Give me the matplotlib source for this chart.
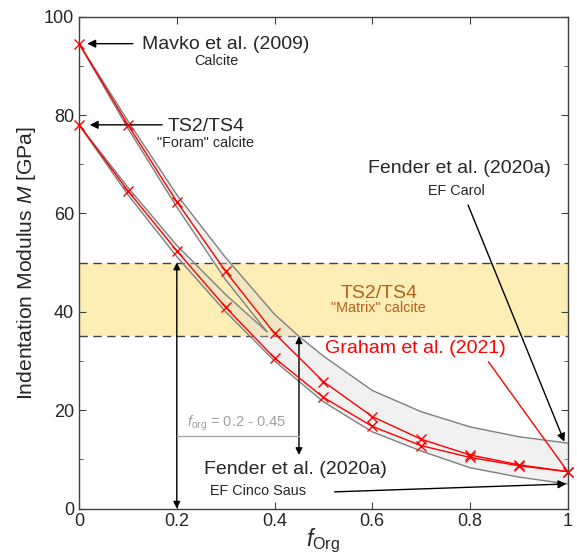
import numpy as np
import matplotlib
matplotlib.use('Agg')
import matplotlib.pyplot as plt
from matplotlib.ticker import MultipleLocator

plt.rcParams['font.family'] = ['Liberation Sans', 'DejaVu Sans']
plt.rcParams['mathtext.fontset'] = 'custom'
plt.rcParams['mathtext.rm'] = 'Liberation Sans'
plt.rcParams['mathtext.it'] = 'Liberation Sans:italic'

# Graham et al. (2021) model curves
f_org = [0, 0.1, 0.2, 0.3, 0.4, 0.5, 0.6, 0.7, 0.8, 0.9, 1.0]
m_mavko = [94.5, 78.0, 62.4, 48.2, 35.6, 25.8, 18.7, 14.1, 10.9, 8.9, 7.5]
m_foram = [78.0, 64.6, 52.4, 40.9, 30.6, 22.6, 16.7, 12.8, 10.4, 8.7, 7.5]

# uncertainty envelope edges
up_outer_x = [0, 0.1, 0.2, 0.3, 0.4, 0.45, 0.5, 0.6, 0.7, 0.8, 0.9, 1.0]
up_outer_y = [94.5, 78.8, 63.8, 51.0, 39.5, 35.0, 31.0, 24.0, 19.7, 16.6, 14.6, 13.3]
up_inner_x = [0, 0.1, 0.2, 0.3, 0.384]
up_inner_y = [94.5, 77.3, 61.3, 46.5, 36.0]
lo_inner_x = [0, 0.1, 0.2, 0.3, 0.384]
lo_inner_y = [78.0, 65.3, 53.5, 43.5, 36.0]
lo_outer_x = [0, 0.1, 0.2, 0.3, 0.4, 0.5, 0.6, 0.7, 0.8, 0.9, 1.0]
lo_outer_y = [78.0, 63.8, 51.2, 40.0, 30.0, 21.7, 15.6, 11.7, 8.3, 6.4, 5.0]

# matrix calcite range
matrix_lo, matrix_hi = 35, 50

fig = plt.figure(figsize=(5.77, 5.54), dpi=100)
ax = fig.add_axes([0.137, 0.082, 0.847, 0.888])

txt = '#262626'
big = 14
small = 10.4

ax.axhspan(matrix_lo, matrix_hi, color='#fdeeb6', zorder=0, lw=0)
ax.axhline(matrix_hi, color='#404040', ls=(0, (6, 4)), lw=1, zorder=1)
ax.axhline(matrix_lo, color='#404040', ls=(0, (6, 4)), lw=1, zorder=1)

# envelope polygon
px = up_outer_x + [1.0] + lo_outer_x[::-1] + lo_inner_x[1:] + up_inner_x[::-1][1:]
py = up_outer_y + [lo_outer_y[-1]] + lo_outer_y[::-1] + lo_inner_y[1:] + up_inner_y[::-1][1:]
ax.fill(px, py, facecolor='#d9d9d9', alpha=0.35, edgecolor='none', zorder=2)
for xs, ys in [(up_outer_x, up_outer_y), (up_inner_x, up_inner_y),
               (lo_inner_x, lo_inner_y), (lo_outer_x, lo_outer_y)]:
    ax.plot(xs, ys, color='#7f7f7f', lw=1, zorder=3)

ax.plot(f_org, m_mavko, color='red', lw=1, marker='x', ms=6.5, mew=1, zorder=5, clip_on=False)
ax.plot(f_org, m_foram, color='red', lw=1, marker='x', ms=6.5, mew=1, zorder=5, clip_on=False)

arr = dict(arrowstyle='-|>', color='black', lw=1, mutation_scale=12, shrinkA=0, shrinkB=0)

ax.annotate('', xy=(0.017, 94.5), xytext=(0.11, 94.5), arrowprops=arr)
ax.text(0.30, 94.3, 'Mavko et al. (2009)', fontsize=big, color=txt, ha='center', va='center')
ax.text(0.28, 90.9, 'Calcite', fontsize=small, color=txt, ha='center', va='center')

ax.annotate('', xy=(0.022, 78.0), xytext=(0.17, 78.0), arrowprops=arr)
ax.text(0.26, 77.6, 'TS2/TS4', fontsize=big, color=txt, ha='center', va='center')
ax.text(0.258, 74.3, '"Foram" calcite', fontsize=small, color=txt, ha='center', va='center')

ax.text(0.779, 69.2, 'Fender et al. (2020a)', fontsize=big, color=txt, ha='center', va='center')
ax.text(0.773, 64.6, 'EF Carol', fontsize=small, color=txt, ha='center', va='center')
ax.annotate('', xy=(0.993, 13.6), xytext=(0.796, 61.7), arrowprops=arr)

ax.text(0.615, 43.8, 'TS2/TS4', fontsize=big, color='#b45f1c', ha='center', va='center')
ax.text(0.612, 40.8, '"Matrix" calcite', fontsize=small, color='#b45f1c', ha='center', va='center')

ax.text(0.689, 32.5, 'Graham et al. (2021)', fontsize=big, color='red', ha='center', va='center')
ax.plot([0.838, 1.0], [29.8, 7.5], color='red', lw=1, zorder=5)

ax.text(0.442, 7.9, 'Fender et al. (2020a)', fontsize=big, color=txt, ha='center', va='center')
ax.text(0.367, 3.5, 'EF Cinco Saus', fontsize=small, color=txt, ha='center', va='center')
ax.annotate('', xy=(0.997, 5.0), xytext=(0.523, 3.4), arrowprops=arr)

# f_org range markers
ax.annotate('', xy=(0.2, matrix_hi), xytext=(0.2, 0),
            arrowprops=dict(arrowstyle='<|-|>', color='black', lw=1, mutation_scale=10,
                            shrinkA=0, shrinkB=0))
ax.annotate('', xy=(0.45, matrix_lo), xytext=(0.45, 10.9),
            arrowprops=dict(arrowstyle='<|-|>', color='black', lw=1, mutation_scale=10,
                            shrinkA=0, shrinkB=0))
ax.plot([0.2, 0.45], [14.8, 14.8], color='#a6a6a6', lw=1, zorder=4)
ax.text(0.221, 17.4, r'$f_{\mathrm{org}}$ = 0.2 - 0.45', fontsize=10.5, color='#a0a0a0',
        ha='left', va='center')

ax.set_xlim(0, 1)
ax.set_ylim(0, 100)
ax.set_xticks([0, 0.2, 0.4, 0.6, 0.8, 1.0])
ax.set_xticklabels(['0', '0.2', '0.4', '0.6', '0.8', '1'])
ax.yaxis.set_major_locator(MultipleLocator(20))
ax.yaxis.set_minor_locator(MultipleLocator(10))
ax.tick_params(which='both', direction='in', top=True, right=True, colors='#404040',
               labelcolor=txt, labelsize=13)
ax.tick_params(which='major', length=5)
ax.tick_params(which='minor', length=3)
for s in ax.spines.values():
    s.set_color('#404040')
    s.set_linewidth(1)

ax.set_xlabel(r'$f_{\mathrm{Org}}$', fontsize=16.5, color=txt, labelpad=-3)
ax.set_ylabel(r'Indentation Modulus $M$ [GPa]', fontsize=15.2, color=txt, labelpad=4)

fig.savefig('out.png', dpi=100)
